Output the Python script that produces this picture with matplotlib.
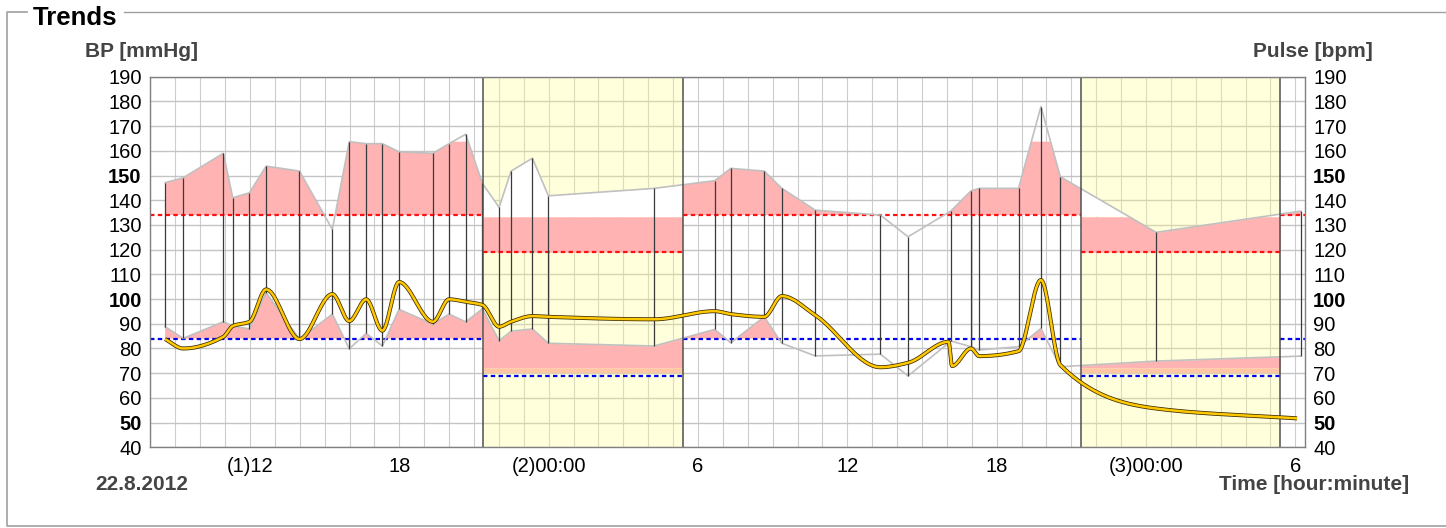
import numpy as np
import matplotlib
matplotlib.use('Agg')
import matplotlib.pyplot as plt
from matplotlib.lines import Line2D

plt.rcParams['font.family'] = ['Liberation Sans', 'DejaVu Sans']

# ---------------- data (hours since 0:00 of 22.8.2012) ----------------
bp_time = [8.59, 9.32, 10.93, 11.31, 11.98, 12.65, 13.99, 15.31, 15.99, 16.67,
           17.32, 17.99, 19.35, 20.00, 20.67, 21.34, 22.01, 22.49, 23.35, 23.99,
           28.24, 30.67, 31.32, 32.66, 33.37, 34.71, 37.33, 38.44, 40.17, 40.97,
           41.30, 42.88, 43.78, 44.56, 48.41, 54.21]
systolic = [147.1, 149.1, 159.0, 141.0, 143.0, 153.8, 151.8, 128.2, 163.7, 162.9,
            162.9, 159.6, 159.0, 162.9, 166.7, 146.8, 137.1, 151.8, 157.0, 141.8,
            144.8, 147.9, 152.9, 151.8, 144.8, 136.0, 134.0, 125.2, 135.7, 143.8,
            144.8, 144.8, 177.9, 149.5, 127.0, 135.6]
diastolic = [88.8, 84.1, 90.8, 89.1, 87.9, 102.6, 83.8, 93.9, 79.9, 86.1,
             81.0, 95.8, 89.9, 93.9, 90.8, 96.0, 83.1, 87.0, 87.9, 82.1,
             81.0, 87.7, 82.3, 92.8, 82.1, 77.0, 77.7, 68.9, 83.0, 80.7,
             79.4, 80.7, 88.1, 72.6, 74.9, 76.9]

pulse_time = [8.59, 9.32, 10.93, 11.31, 11.98, 12.65, 13.99, 15.31, 15.99, 16.67,
              17.32, 17.99, 19.35, 20.00, 20.67, 21.34, 22.01, 22.49, 23.35, 23.99,
              28.24, 30.67, 31.32, 32.66, 33.37, 34.71, 37.33, 38.44, 40.07, 40.21,
              40.97, 41.30, 42.88, 43.78, 44.56, 48.41, 54.07]
pulse = [83.8, 80.0, 84.7, 89.1, 90.8, 103.9, 83.8, 102.0, 91.1, 99.9,
         87.2, 106.9, 90.8, 99.9, 98.9, 97.6, 88.8, 90.8, 93.1, 92.8,
         91.8, 95.1, 93.9, 92.8, 101.2, 93.5, 72.4, 74.2, 82.7, 72.9,
         80.0, 76.9, 78.9, 107.7, 73.3, 55.7, 51.7]

night_periods = [(21.38, 29.38), (45.39, 53.40)]
sys_limit_day, dia_limit_day = 134, 84
sys_limit_night, dia_limit_night = 119, 69

tick_hours = [12, 18, 24, 30, 36, 42, 48, 54]
tick_labels = ['(1)12', '18', '(2)00:00', '6', '12', '18', '(3)00:00', '6']
y_ticks = list(range(40, 191, 10))
x_min, x_max = 8.0, 54.41

# ---------------- figure ----------------
W, H = 1446, 528
fig = plt.figure(figsize=(W / 100, H / 100), dpi=100)
L, R, T, B = 150.4, 1305.5, 76.7, 447.3
ax = fig.add_axes([L / W, 1 - B / H, (R - L) / W, (B - T) / H])
ax.set_xlim(x_min, x_max)
ax.set_ylim(40, 190)

PINK = '#ffb3b3'
PEACH = '#ffc6a6'
GRAYLINE = '#c0c0c0'
TICKFS = 14.5

# grid
for h in range(8, 55):
    ax.axvline(h, color='#cdcdcd', lw=0.8, zorder=0.5)
for v in y_ticks:
    ax.axhline(v, color='#c4c4c4', lw=1.0, zorder=0.5)

# night shading
for a, b in night_periods:
    ax.axvspan(a, b, color=(1, 1, 0.55), alpha=0.3, lw=0, zorder=1)

# zones for fills
t0, t1 = bp_time[0], bp_time[-1]
edges = [t0] + [p for ab in night_periods for p in ab] + [t1]
zones = []
for i in range(len(edges) - 1):
    zones.append((edges[i], edges[i + 1], i % 2 == 1))

for a, b, night in zones:
    tt = np.linspace(a, b, 3000)
    s = np.interp(tt, bp_time, systolic)
    d = np.interp(tt, bp_time, diastolic)
    if not night:
        ax.fill_between(tt, sys_limit_day, np.minimum(s, 163.7), where=s > sys_limit_day,
                        interpolate=True, color=PINK, lw=0, zorder=2)
        ax.fill_between(tt, dia_limit_day, d, where=d > dia_limit_day,
                        interpolate=True, color=PINK, lw=0, zorder=2)
    else:
        top = 133.3
        ax.fill_between(tt, top, s, where=s > top, interpolate=True,
                        color='white', lw=0, zorder=2)
        ax.fill_between(tt, sys_limit_night, np.minimum(s, top), where=s > sys_limit_night,
                        interpolate=True, color=PINK, lw=0, zorder=2)
        ax.fill_between(tt, 72.2, d, where=d > 72.2, interpolate=True,
                        color=PINK, lw=0, zorder=2)
        ax.fill_between(tt, 70.2, np.clip(d, 70.2, 72.2), color=PEACH, lw=0, zorder=2)

# threshold lines
dash = (0, (2, 1.5))
line_edges = [x_min] + [p for ab in night_periods for p in ab] + [x_max]
for i in range(len(line_edges) - 1):
    a, b = line_edges[i], line_edges[i + 1]
    night = i % 2 == 1
    sl = sys_limit_night if night else sys_limit_day
    dl = dia_limit_night if night else dia_limit_day
    ax.plot([a, b], [sl, sl], color='#ff1010', lw=1.6, ls=dash, zorder=3)
    ax.plot([a, b], [dl, dl], color='#0000ee', lw=1.6, ls=dash, zorder=3)

# systolic / diastolic polylines
ax.plot(bp_time, systolic, color=GRAYLINE, lw=1.2, zorder=4)
ax.plot(bp_time, diastolic, color=GRAYLINE, lw=1.2, zorder=4)
ax.vlines(bp_time, diastolic, systolic, color='#3a3a3a', lw=0.9, zorder=4.5)

# night borders
for a, b in night_periods:
    ax.axvline(a, color='#505050', lw=1.1, zorder=5)
    ax.axvline(b, color='#505050', lw=1.1, zorder=5)


# pulse (monotone cubic interpolation)
def pchip(x, y, xn):
    x = np.asarray(x, float)
    y = np.asarray(y, float)
    hh = np.diff(x)
    dl = np.diff(y) / hh
    n = len(x)
    m = np.zeros(n)
    for k in range(1, n - 1):
        if dl[k - 1] * dl[k] > 0:
            w1 = 2 * hh[k] + hh[k - 1]
            w2 = hh[k] + 2 * hh[k - 1]
            m[k] = (w1 + w2) / (w1 / dl[k - 1] + w2 / dl[k])
    m[0] = dl[0]
    m[-1] = dl[-1]
    idx = np.clip(np.searchsorted(x, xn) - 1, 0, n - 2)
    t = (xn - x[idx]) / hh[idx]
    h00 = 2 * t**3 - 3 * t**2 + 1
    h10 = t**3 - 2 * t**2 + t
    h01 = -2 * t**3 + 3 * t**2
    h11 = t**3 - t**2
    return (h00 * y[idx] + h10 * hh[idx] * m[idx] + h01 * y[idx + 1]
            + h11 * hh[idx] * m[idx + 1])


pt = np.linspace(pulse_time[0], pulse_time[-1], 4000)
pv = pchip(pulse_time, pulse, pt)
ax.plot(pt, pv, color='#3a2a00', lw=2.9, solid_capstyle='butt', zorder=6)
ax.plot(pt, pv, color='#ffc800', lw=1.8, solid_capstyle='butt', zorder=6.1)

# axes styling
ax.set_xticks(tick_hours)
ax.set_xticklabels(tick_labels)
ax.set_yticks(y_ticks)
ax.set_yticklabels([str(v) for v in y_ticks])
ax.tick_params(axis='both', length=0, labelsize=TICKFS, colors='black')
ax.tick_params(axis='y', pad=6.3)
ax.tick_params(axis='x', pad=7.0)
for sp in ax.spines.values():
    sp.set_color('#808080')
    sp.set_linewidth(1.0)
    sp.set_zorder(7)

ax2 = ax.twinx()
ax2.set_ylim(40, 190)
ax2.set_yticks(y_ticks)
ax2.set_yticklabels([str(v) for v in y_ticks])
ax2.tick_params(axis='y', length=0, labelsize=TICKFS, pad=5.5, colors='black')
for sp in ax2.spines.values():
    sp.set_visible(False)

for a in (ax, ax2):
    for lab in a.get_yticklabels():
        if lab.get_text() in ('50', '100', '150'):
            lab.set_fontweight('bold')

# texts
def px(x, y):
    return x / W, 1 - y / H


GT = '#444444'
fig.text(*px(85, 57), 'BP [mmHg]', fontsize=15, fontweight='bold', color=GT, va='baseline')
fig.text(*px(1253, 57), 'Pulse [bpm]', fontsize=15, fontweight='bold', color=GT, va='baseline')
fig.text(*px(95, 490), '22.8.2012', fontsize=15, fontweight='bold', color=GT, va='baseline')
fig.text(*px(1409, 490), 'Time [hour:minute]', fontsize=15, fontweight='bold', color=GT,
         va='baseline', ha='right')
fig.text(*px(33, 25), 'Trends', fontsize=18.5, fontweight='bold', color='black', va='baseline')

# fieldset frame
fc = '#a0a0a0'
def fline(xs, ys, lw=1.0):
    fig.add_artist(Line2D([x / W for x in xs], [1 - y / H for y in ys], color=fc, lw=lw,
                          transform=fig.transFigure))


fline([27, 7, 7, 1446], [12, 12, 526, 526], lw=1.2)
fline([124, 1446], [12, 12], lw=1.0)

fig.savefig('out.png', dpi=100)
